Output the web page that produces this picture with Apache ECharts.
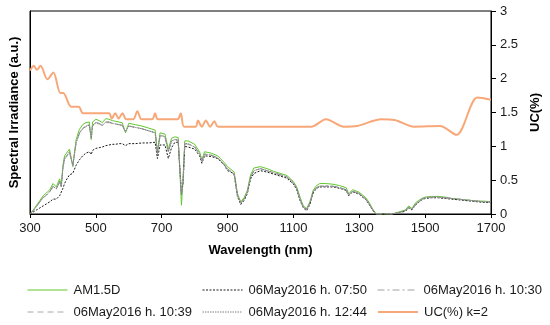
<!DOCTYPE html>
<html>
<head>
<meta charset="utf-8">
<script src="https://cdn.jsdelivr.net/npm/echarts@6/dist/echarts.min.js"></script>
<style>
html,body{margin:0;padding:0;background:#fff;}
#chart{width:550px;height:325px;}
</style>
</head>
<body>
<div id="chart"></div>
<script>
// Wavelengths (nm)
var wavelength = [300,310,320,330,340,350,360,370,380,390,395,400,405,410,420,430,440,450,460,470,480,486,490,500,510,520,530,540,550,560,570,580,590,600,620,640,660,680,687,695,710,720,730,740,750,760,765,770,780,800,815,822,830,850,870,890,900,910,920,930,940,950,960,970,980,1000,1020,1040,1060,1080,1100,1110,1120,1130,1140,1150,1160,1170,1180,1200,1220,1240,1260,1268,1280,1300,1320,1330,1340,1350,1360,1380,1400,1420,1440,1450,1460,1470,1480,1490,1500,1520,1540,1560,1580,1600,1620,1640,1660,1680,1700];

var am15d = [0.00,0.06,0.13,0.20,0.27,0.31,0.36,0.45,0.40,0.52,
0.42,0.72,0.86,0.88,0.96,0.70,1.10,1.25,1.32,1.35,
1.36,1.10,1.36,1.40,1.38,1.35,1.41,1.40,1.38,1.37,
1.36,1.35,1.20,1.34,1.32,1.30,1.27,1.24,0.92,1.20,
1.18,0.96,1.12,1.14,1.13,0.13,0.55,1.08,1.08,1.03,
0.92,0.80,0.92,0.90,0.86,0.76,0.70,0.66,0.62,0.30,
0.18,0.24,0.35,0.58,0.68,0.70,0.67,0.63,0.60,0.57,
0.48,0.40,0.25,0.12,0.08,0.18,0.35,0.42,0.45,0.45,
0.44,0.42,0.39,0.30,0.36,0.32,0.24,0.17,0.08,0.01,
0.00,0.00,0.00,0.03,0.06,0.12,0.08,0.16,0.20,0.23,
0.25,0.26,0.26,0.25,0.23,0.22,0.21,0.20,0.19,0.19,0.18];

var h0750 = [0.00,0.03,0.06,0.09,0.12,0.15,0.18,0.22,0.22,0.27,
0.26,0.38,0.45,0.50,0.58,0.60,0.72,0.80,0.86,0.90,
0.92,0.88,0.94,0.97,0.98,0.99,1.01,1.02,1.03,1.03,
1.04,1.04,1.01,1.04,1.04,1.05,1.05,1.06,0.82,1.02,
1.02,0.82,0.98,1.06,1.06,0.30,0.45,1.00,0.99,0.96,
0.86,0.75,0.86,0.85,0.82,0.72,0.64,0.62,0.58,0.26,
0.14,0.20,0.30,0.52,0.60,0.64,0.62,0.59,0.56,0.53,
0.44,0.36,0.20,0.09,0.05,0.14,0.31,0.38,0.40,0.40,
0.40,0.38,0.35,0.27,0.33,0.29,0.21,0.14,0.06,0.00,
0.00,0.00,0.00,0.02,0.04,0.09,0.06,0.13,0.17,0.21,
0.23,0.24,0.24,0.23,0.22,0.21,0.20,0.19,0.18,0.17,0.17];

var h1030 = [0.00,0.05,0.12,0.18,0.25,0.28,0.33,0.41,0.38,0.48,
0.40,0.69,0.82,0.85,0.92,0.71,1.06,1.20,1.27,1.30,
1.32,1.12,1.31,1.35,1.34,1.31,1.36,1.36,1.34,1.33,
1.32,1.31,1.21,1.30,1.28,1.26,1.23,1.20,0.89,1.16,
1.15,0.92,1.08,1.10,1.09,0.27,0.50,1.04,1.04,0.99,
0.89,0.78,0.89,0.87,0.83,0.73,0.67,0.63,0.59,0.28,
0.16,0.22,0.32,0.55,0.64,0.67,0.64,0.61,0.58,0.55,
0.46,0.38,0.23,0.10,0.07,0.16,0.33,0.39,0.41,0.42,
0.41,0.39,0.36,0.28,0.34,0.30,0.22,0.15,0.07,0.00,
0.00,0.00,0.00,0.02,0.05,0.10,0.07,0.14,0.18,0.22,
0.24,0.25,0.25,0.24,0.23,0.22,0.21,0.20,0.19,0.18,0.18];

var h1039 = [0.00,0.05,0.11,0.18,0.24,0.28,0.33,0.40,0.37,0.47,
0.40,0.68,0.81,0.84,0.91,0.71,1.05,1.19,1.26,1.29,
1.31,1.12,1.30,1.34,1.33,1.31,1.35,1.35,1.34,1.33,
1.32,1.31,1.22,1.30,1.28,1.26,1.23,1.20,0.90,1.16,
1.14,0.92,1.08,1.10,1.09,0.28,0.50,1.04,1.03,0.99,
0.89,0.78,0.88,0.87,0.83,0.73,0.66,0.63,0.59,0.28,
0.16,0.22,0.32,0.55,0.64,0.67,0.64,0.61,0.58,0.55,
0.46,0.38,0.22,0.10,0.07,0.16,0.33,0.39,0.41,0.41,
0.41,0.39,0.36,0.28,0.34,0.30,0.22,0.15,0.07,0.00,
0.00,0.00,0.00,0.02,0.05,0.10,0.07,0.14,0.18,0.22,
0.24,0.25,0.25,0.24,0.23,0.22,0.21,0.20,0.19,0.18,0.18];

var h1244 = [0.00,0.05,0.11,0.18,0.24,0.28,0.33,0.41,0.37,0.48,
0.40,0.68,0.82,0.84,0.92,0.72,1.05,1.19,1.26,1.30,
1.31,1.12,1.31,1.35,1.34,1.31,1.36,1.36,1.34,1.33,
1.32,1.31,1.22,1.30,1.28,1.26,1.23,1.20,0.90,1.16,
1.14,0.92,1.08,1.10,1.09,0.28,0.50,1.04,1.04,0.99,
0.89,0.78,0.88,0.87,0.83,0.73,0.66,0.63,0.59,0.28,
0.16,0.22,0.32,0.55,0.64,0.67,0.64,0.61,0.58,0.55,
0.46,0.38,0.22,0.10,0.07,0.16,0.33,0.39,0.41,0.41,
0.41,0.39,0.36,0.28,0.34,0.30,0.22,0.15,0.07,0.00,
0.00,0.00,0.00,0.02,0.05,0.10,0.07,0.14,0.18,0.22,
0.24,0.25,0.25,0.24,0.23,0.22,0.21,0.20,0.19,0.18,0.18];

// UC(%) k=2 curve
var ucWavelength = [300,312,321,332,353,371,392,401,425,448,461,540,548,559,569,581,592,614,626,639,671,680,688,748,758,768,803,810,822,834,847,860,871,1154,1199,1253,1293,1367,1407,1466,1545,1595,1659,1700];
var ucValue = [2.12,2.19,2.13,2.19,1.99,2.09,1.79,1.79,1.585,1.585,1.49,1.49,1.41,1.49,1.41,1.49,1.40,1.40,1.52,1.40,1.40,1.49,1.40,1.40,1.49,1.29,1.29,1.38,1.29,1.38,1.29,1.37,1.29,1.29,1.40,1.29,1.30,1.40,1.39,1.29,1.30,1.17,1.72,1.69];

var xTicks = [300,500,700,900,1100,1300,1500,1700];
var seriesNames = ['AM1.5D','06May2016 h. 07:50','06May2016 h. 10:30','06May2016 h. 10:39','06May2016 h. 12:44','UC(%) k=2'];

function pairs(xs, ys){ return xs.map(function(x,i){ return [x, ys[i]]; }); }

var FONT = '"Liberation Sans", Arial, sans-serif';
var chart = echarts.init(document.getElementById('chart'), null, {renderer:'canvas'});

var styles = [
  {color:'#5fc92e', width:1, type:'solid'},
  {color:'#1a1a1a', width:1, type:[2,1.5]},
  {color:'#a0a0a0', width:1, type:[7,3,2,3]},
  {color:'#a8a8a8', width:1, type:[6,4]},
  {color:'#808080', width:1, type:[1.5,1]},
  {color:'#f8a878', width:2, type:'solid'}
];

var legendPos = [[27,283.5],[202,283.5],[377,283.5],[27,305.5],[202,305.5],[377,305.5]];
var legends = seriesNames.map(function(n,i){
  return {
    data:[n], left:legendPos[i][0], top:legendPos[i][1], orient:'horizontal',
    itemWidth:40, itemHeight:10, itemGap:0, padding:0,
    itemStyle:{opacity:0},
    lineStyle:{color:styles[i].color, width:styles[i].width, type:styles[i].type},
    textStyle:{fontFamily:FONT, fontSize:13, color:'#1a1a1a', padding:[0,0,0,1]},
    selectedMode:false
  };
});

var specData = [am15d, h0750, h1030, h1039, h1244];
var series = specData.map(function(vals, i){
  return {name:seriesNames[i], type:'line', yAxisIndex:0, showSymbol:false, symbol:'none', z:(i===0?3:4),
    data:pairs(wavelength, vals), lineStyle:styles[i], itemStyle:{color:styles[i].color}};
});
series.push({name:seriesNames[5], type:'line', yAxisIndex:1, showSymbol:false, symbol:'none', z:5, smooth:0.3,
  data:pairs(ucWavelength, ucValue), lineStyle:styles[5], itemStyle:{color:styles[5].color}});

var option = {
  animation:false,
  backgroundColor:'#fff',
  legend: legends,
  grid:{left:21, right:58, top:11, bottom:111, show:true, borderColor:'#000', borderWidth:1, containLabel:false},
  xAxis:{
    type:'value', min:300, max:1700, interval:200,
    name:'Wavelength (nm)', nameLocation:'middle', nameGap:30,
    nameTextStyle:{fontFamily:FONT, fontSize:13, fontWeight:'bold', color:'#000'},
    axisLine:{show:true, lineStyle:{color:'#000', width:1}},
    axisTick:{show:true, length:4, lineStyle:{color:'#000'}},
    axisLabel:{fontFamily:FONT, fontSize:13, color:'#1a1a1a', margin:8,
      formatter:function(v){ return String(v); }},
    splitLine:{show:false}
  },
  yAxis:[
    {
      type:'value', position:'left', min:0, max:3, interval:0.5,
      name:'Spectral Irradiance (a.u.)', nameLocation:'middle', nameGap:9, nameRotate:90,
      nameTextStyle:{fontFamily:FONT, fontSize:13, fontWeight:'bold', color:'#000'},
      axisLine:{show:true, lineStyle:{color:'#000'}},
      axisTick:{show:false}, axisLabel:{show:false}, splitLine:{show:false}
    },
    {
      type:'value', position:'right', min:0, max:3, interval:0.5,
      name:'UC(%)', nameLocation:'middle', nameGap:38, nameRotate:90,
      nameTextStyle:{fontFamily:FONT, fontSize:13, fontWeight:'bold', color:'#000'},
      axisLine:{show:true, lineStyle:{color:'#000'}},
      axisTick:{show:true, length:5, lineStyle:{color:'#000'}},
      axisLabel:{fontFamily:FONT, fontSize:13, color:'#1a1a1a', margin:9},
      splitLine:{show:false}
    }
  ],
  series: series
};
chart.setOption(option);
</script>
</body>
</html>
